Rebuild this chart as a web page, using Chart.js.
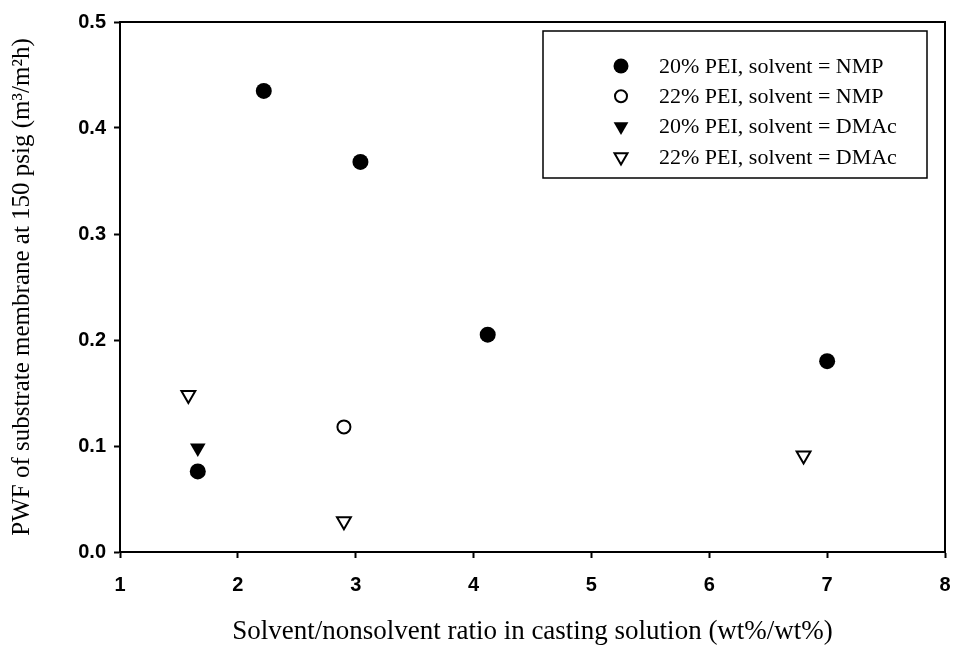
<!DOCTYPE html>
<html>
<head>
<meta charset="utf-8">
<script src="https://cdn.jsdelivr.net/npm/chart.js@4.4.1/dist/chart.umd.min.js"></script>
<style>
  html, body { margin: 0; padding: 0; background: #fff; }
  #wrap { width: 955px; height: 648px; }
</style>
</head>
<body>
<div id="wrap"><canvas id="pwf-chart"></canvas></div>
<script>
// PWF at 150 psig vs. solvent/nonsolvent ratio
const nmp20X = [1.66, 2.22, 3.04, 4.12, 7.0];
const nmp20Y = [0.076, 0.435, 0.368, 0.205, 0.180];
const nmp22X = [2.9];
const nmp22Y = [0.118];
const dmac20X = [1.66];
const dmac20Y = [0.098];
const dmac22X = [1.58, 2.9, 6.8];
const dmac22Y = [0.148, 0.029, 0.091];

const xTicks = [1, 2, 3, 4, 5, 6, 7, 8];
const yTicks = [0.0, 0.1, 0.2, 0.3, 0.4, 0.5];

const seriesLabels = [
  "20% PEI, solvent = NMP",
  "22% PEI, solvent = NMP",
  "20% PEI, solvent = DMAc",
  "22% PEI, solvent = DMAc",
];

function points(xs, ys) {
  return xs.map(function (x, i) {
    return { x: x, y: ys[i] };
  });
}

Chart.defaults.font.family = "'Liberation Sans', Arial, sans-serif";
Chart.defaults.color = "#000";

// boxed legend inside the plot, top right
const boxLegend = {
  id: "boxLegend",
  afterDatasetsDraw(chart) {
    const ctx = chart.ctx;
    const left = 543, top = 31, w = 384, h = 147;
    ctx.save();
    ctx.lineWidth = 1.5;
    ctx.strokeStyle = "#000";
    ctx.strokeRect(left, top, w, h);
    chart.data.datasets.forEach(function (ds, i) {
      const y = top + 35 + i * 30.3;
      ctx.fillStyle = ds.pointBackgroundColor;
      ctx.strokeStyle = ds.pointBorderColor;
      ctx.lineWidth = ds.pointBorderWidth;
      Chart.helpers.drawPoint(ctx, {
        pointStyle: ds.pointStyle,
        radius: ds.legendRadius,
        rotation: ds.pointRotation || 0,
        borderWidth: ds.pointBorderWidth,
      }, 621, y);
      ctx.fillStyle = "#000";
      ctx.font = "22px 'Liberation Serif'";
      ctx.textBaseline = "middle";
      ctx.textAlign = "left";
      ctx.fillText(ds.label, 659, y + 1);
    });
    ctx.restore();
  },
};

// closes the frame along the top and right edges
const frame = {
  id: "frame",
  beforeDatasetsDraw(chart) {
    const a = chart.chartArea;
    const ctx = chart.ctx;
    ctx.save();
    ctx.strokeStyle = "#000";
    ctx.lineWidth = 2;
    ctx.beginPath();
    ctx.moveTo(a.left, a.top);
    ctx.lineTo(a.right, a.top);
    ctx.lineTo(a.right, a.bottom);
    ctx.stroke();
    ctx.restore();
  },
};

new Chart(document.getElementById("pwf-chart"), {
  type: "scatter",
  data: {
    datasets: [
      {
        label: seriesLabels[0],
        data: points(nmp20X, nmp20Y),
        pointStyle: "circle",
        pointRadius: 8,
        legendRadius: 7.5,
        pointBorderWidth: 0,
        pointBackgroundColor: "#000",
        pointBorderColor: "#000",
      },
      {
        label: seriesLabels[1],
        data: points(nmp22X, nmp22Y),
        pointStyle: "circle",
        pointRadius: 6.5,
        legendRadius: 6,
        pointBorderWidth: 2,
        pointBackgroundColor: "#fff",
        pointBorderColor: "#000",
      },
      {
        label: seriesLabels[2],
        data: points(dmac20X, dmac20Y),
        pointStyle: "triangle",
        pointRotation: 180,
        pointRadius: 9,
        legendRadius: 8.5,
        pointBorderWidth: 0,
        pointBackgroundColor: "#000",
        pointBorderColor: "#000",
      },
      {
        label: seriesLabels[3],
        data: points(dmac22X, dmac22Y),
        pointStyle: "triangle",
        pointRotation: 180,
        pointRadius: 8,
        legendRadius: 7.5,
        pointBorderWidth: 2,
        pointBackgroundColor: "#fff",
        pointBorderColor: "#000",
      },
    ],
  },
  options: {
    responsive: true,
    maintainAspectRatio: false,
    animation: false,
    events: [],
    layout: { padding: { left: 0, top: 22, right: 0, bottom: 0 } },
    plugins: {
      legend: { display: false },
      tooltip: { enabled: false },
    },
    scales: {
      x: {
        type: "linear",
        min: xTicks[0],
        max: xTicks[xTicks.length - 1],
        afterFit: function (scale) {
          scale.height = 96;
          scale.paddingLeft = 0;
          scale.paddingRight = 9;
        },
        afterBuildTicks: function (scale) {
          scale.ticks = xTicks.map(function (v) {
            return { value: v };
          });
        },
        ticks: {
          padding: 15,
          font: { size: 20, weight: "bold" },
          callback: function (v) {
            return String(v);
          },
        },
        grid: {
          drawOnChartArea: false,
          drawTicks: true,
          tickLength: 6,
          tickWidth: 2,
          tickColor: "#000",
        },
        border: { color: "#000", width: 2 },
        title: {
          display: true,
          text: "Solvent/nonsolvent ratio in casting solution (wt%/wt%)",
          font: { family: "'Liberation Serif'", size: 27 },
          padding: { top: 0, bottom: 0 },
        },
      },
      y: {
        type: "linear",
        min: yTicks[0],
        max: yTicks[yTicks.length - 1],
        afterFit: function (scale) {
          scale.width = 120;
        },
        afterBuildTicks: function (scale) {
          scale.ticks = yTicks.map(function (v) {
            return { value: v };
          });
        },
        ticks: {
          padding: 8,
          font: { size: 20, weight: "bold" },
          callback: function (v) {
            return Number(v).toFixed(1);
          },
        },
        grid: {
          drawOnChartArea: false,
          drawTicks: true,
          tickLength: 6,
          tickWidth: 2,
          tickColor: "#000",
        },
        border: { color: "#000", width: 2 },
        title: {
          display: true,
          text: "PWF of substrate membrane at 150 psig (m³/m²h)",
          font: { family: "'Liberation Serif'", size: 25 },
          padding: { top: 7, bottom: 0 },
        },
      },
    },
  },
  plugins: [frame, boxLegend],
});
</script>
</body>
</html>
